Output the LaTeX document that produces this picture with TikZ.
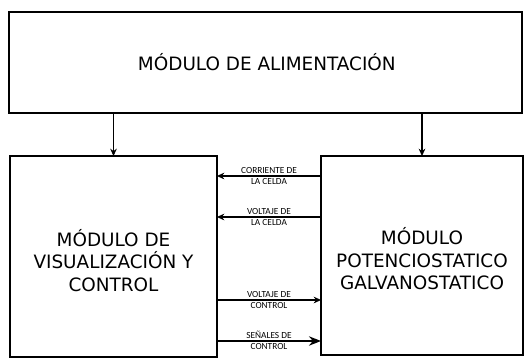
\documentclass[tikz,border=0pt]{standalone}
\usepackage{fontspec}
\setmainfont{DejaVu Sans}
\newfontfamily\lblfont{Carlito}
\usetikzlibrary{arrows.meta}
\begin{document}
\begin{tikzpicture}[x=0.75pt,y=-0.75pt,
  box/.style={draw, line width=1.5pt, inner sep=0pt, outer sep=0pt},
  maintext/.style={align=center, font=\fontsize{13.8}{17}\selectfont, inner sep=0pt},
  lbl/.style={font=\lblfont\fontsize{7}{7}\selectfont, inner sep=1.2pt},
  thinarrow/.style={line width=0.8pt, -{Stealth[length=5.5pt,width=5pt]}},
  bigarrow/.style={line width=1.6pt, -{Stealth[length=9pt,width=7pt]}}]
\useasboundingbox (0,0) rectangle (525,361);
\node[box, minimum width=384.75pt, minimum height=75.75pt] (T) at (265.5,62.5) {};
\node[maintext] (Tt) at ([xshift=1pt]T.center) {MÓDULO DE ALIMENTACIÓN};
\node[box, minimum width=155.25pt, minimum height=150.75pt] (L) at (113.5,256.5) {};
\node[maintext] (Lt) at ([yshift=-3pt]L.center) {MÓDULO DE\\VISUALIZACIÓN Y\\CONTROL};
\node[box, minimum width=151.5pt, minimum height=149.25pt] (R) at (422,255.5) {};
\node[maintext] (Rt) at ([yshift=-2.5pt]R.center) {MÓDULO\\POTENCIOSTATICO\\GALVANOSTATICO};
% vertical arrows
\draw[thinarrow] (T.south -| L.north) -- (L.north);
\draw[thinarrow] (T.south -| R.north) -- (R.north);
% horizontal connectors
\coordinate (h1) at (0,176);
\coordinate (h2) at (0,217);
\coordinate (h3) at (0,300);
\coordinate (h4) at (0,341);
\draw[thinarrow] (R.west |- h1) -- node[lbl, above] {CORRIENTE DE} node[lbl, below] {LA CELDA} (L.east |- h1);
\draw[thinarrow] (R.west |- h2) -- node[lbl, above] {VOLTAJE DE} node[lbl, below] {LA CELDA} (L.east |- h2);
\draw[thinarrow] (L.east |- h3) -- node[lbl, above] {VOLTAJE DE} node[lbl, below] {CONTROL} (R.west |- h3);
\draw[bigarrow] (L.east |- h4) -- node[lbl, above] {SEÑALES DE} node[lbl, below] {CONTROL} (R.west |- h4);
\end{tikzpicture}
\end{document}
